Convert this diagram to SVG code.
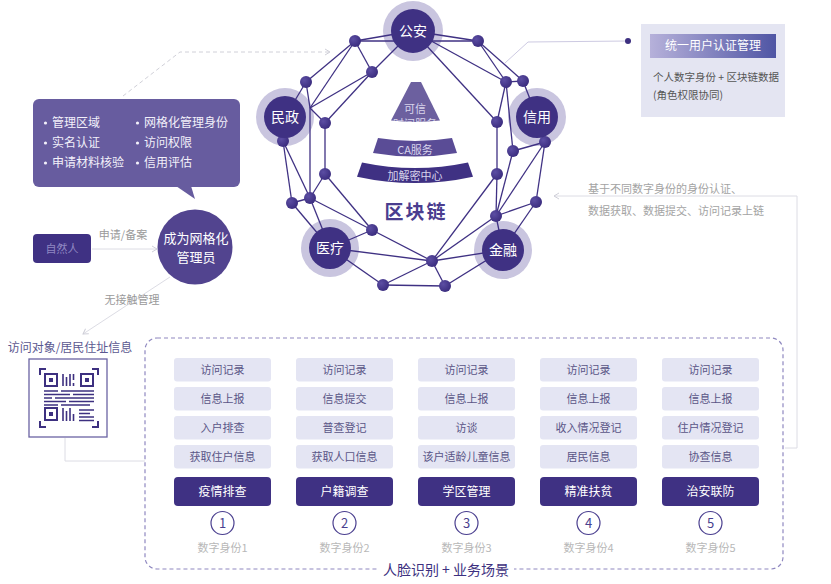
<svg xmlns="http://www.w3.org/2000/svg" width="831" height="584" viewBox="0 0 831 584">
<defs>
<style>
text{font-family:"Noto Sans CJK SC","Noto Sans",sans-serif;}
.edge{stroke:#3f3183;stroke-width:1.3;fill:none;}
.ring{fill:#c9c5df;}
.core{fill:#3f3183;}
.big{fill:#fff;font-size:14px;text-anchor:middle;}
.dot{fill:url(#dg);}
.lb{fill:#e4e5f3;}
.lt{fill:#5a5587;font-size:11px;text-anchor:middle;}
.db{fill:#3f3183;}
.dt{fill:#fff;font-size:12px;text-anchor:middle;}
.num{fill:#fff;stroke:#4a3f8f;stroke-width:1.2;}
.nt{fill:#4a3f8f;font-size:13px;text-anchor:middle;}
.id{fill:#b8b8b8;font-size:11px;text-anchor:middle;}
.gray{stroke:#dcdce4;stroke-width:1;fill:none;}
.bul{fill:#f2f0fa;font-size:12px;}
.qr{stroke:#3d3080;fill:none;}
</style>
<radialGradient id="dg" cx="0.35" cy="0.35" r="0.7">
<stop offset="0" stop-color="#5c4ea3"/>
<stop offset="1" stop-color="#3a2c7e"/>
</radialGradient>
<linearGradient id="hg" x1="0" y1="0" x2="1" y2="0">
<stop offset="0" stop-color="#b6b1da"/>
<stop offset="1" stop-color="#4f55a4"/>
</linearGradient>
<marker id="ah" markerWidth="8" markerHeight="8" refX="6" refY="4" orient="auto" markerUnits="userSpaceOnUse">
<path d="M1,1 L6,4 L1,7" fill="none" stroke="#cfcfd8" stroke-width="1"/>
</marker>
<clipPath id="triclip"><path d="M411,82 L421,82 L440,120.5 A212 212 0 0 1 391,120.5 Z"/></clipPath>
</defs>
<rect width="831" height="584" fill="#fff"/>

<!-- connectors (non-network) -->
<g id="connectors">
<path d="M123,96 L180,52 L330,52" stroke="#d0d0d8" stroke-width="1" fill="none" stroke-dasharray="4 3" marker-end="url(#ah)"/>
<path d="M505,63 L528,42 L628,41" stroke="#cdcae2" stroke-width="1" fill="none"/>
<circle cx="628" cy="41" r="3" fill="#3d3080"/>
<path d="M785,448 H797 V196 H554" class="gray" marker-end="url(#ah)"/>
<path d="M92,249 H157" class="gray" marker-end="url(#ah)"/>
<path d="M170,277 L83,334" class="gray" marker-end="url(#ah)"/>
<path d="M65,438 V461 H145" class="gray"/>
</g>

<!-- blockchain network -->
<g id="ring-backs">
<circle class="ring" cx="413" cy="31" r="30"/>
<circle class="ring" cx="285" cy="117" r="29"/>
<circle class="ring" cx="537" cy="117" r="29"/>
<circle class="ring" cx="330" cy="248" r="29"/>
<circle class="ring" cx="503" cy="250" r="29"/>
</g>
<g id="network-edges">
<line class="edge" x1="413" y1="31" x2="355" y2="41"/>
<line class="edge" x1="355" y1="41" x2="478" y2="41"/>
<line class="edge" x1="413" y1="31" x2="478" y2="41"/>
<line class="edge" x1="355" y1="41" x2="306" y2="82"/>
<line class="edge" x1="355" y1="41" x2="372" y2="72"/>
<line class="edge" x1="355" y1="41" x2="310" y2="108"/>
<line class="edge" x1="372" y1="72" x2="413" y2="31"/>
<line class="edge" x1="372" y1="72" x2="310" y2="108"/>
<line class="edge" x1="372" y1="72" x2="325" y2="123"/>
<line class="edge" x1="306" y1="82" x2="310" y2="108"/>
<line class="edge" x1="306" y1="82" x2="285" y2="117"/>
<line class="edge" x1="310" y1="108" x2="325" y2="123"/>
<line class="edge" x1="310" y1="108" x2="310" y2="198"/>
<line class="edge" x1="325" y1="123" x2="325" y2="174"/>
<line class="edge" x1="285" y1="117" x2="283" y2="141"/>
<line class="edge" x1="283" y1="141" x2="292" y2="203"/>
<line class="edge" x1="283" y1="141" x2="310" y2="198"/>
<line class="edge" x1="292" y1="203" x2="310" y2="198"/>
<line class="edge" x1="292" y1="203" x2="330" y2="248"/>
<line class="edge" x1="310" y1="198" x2="330" y2="248"/>
<line class="edge" x1="325" y1="174" x2="310" y2="198"/>
<line class="edge" x1="325" y1="174" x2="372" y2="230"/>
<line class="edge" x1="310" y1="198" x2="372" y2="230"/>
<line class="edge" x1="372" y1="230" x2="330" y2="248"/>
<line class="edge" x1="372" y1="230" x2="432" y2="261"/>
<line class="edge" x1="330" y1="248" x2="432" y2="261"/>
<line class="edge" x1="330" y1="248" x2="383" y2="285"/>
<line class="edge" x1="383" y1="285" x2="432" y2="261"/>
<line class="edge" x1="383" y1="285" x2="445" y2="286"/>
<line class="edge" x1="432" y1="261" x2="445" y2="286"/>
<line class="edge" x1="432" y1="261" x2="503" y2="250"/>
<line class="edge" x1="445" y1="286" x2="503" y2="250"/>
<line class="edge" x1="432" y1="261" x2="497" y2="174"/>
<line class="edge" x1="432" y1="261" x2="496" y2="216"/>
<line class="edge" x1="496" y1="216" x2="503" y2="250"/>
<line class="edge" x1="496" y1="216" x2="536" y2="202"/>
<line class="edge" x1="496" y1="216" x2="497" y2="174"/>
<line class="edge" x1="496" y1="216" x2="513" y2="151"/>
<line class="edge" x1="496" y1="216" x2="545" y2="142"/>
<line class="edge" x1="536" y1="202" x2="545" y2="142"/>
<line class="edge" x1="536" y1="202" x2="503" y2="250"/>
<line class="edge" x1="497" y1="174" x2="497" y2="122"/>
<line class="edge" x1="513" y1="151" x2="545" y2="142"/>
<line class="edge" x1="413" y1="31" x2="506" y2="82"/>
<line class="edge" x1="413" y1="31" x2="497" y2="122"/>
<line class="edge" x1="478" y1="41" x2="506" y2="82"/>
<line class="edge" x1="478" y1="41" x2="523" y2="81"/>
<line class="edge" x1="506" y1="82" x2="523" y2="81"/>
<line class="edge" x1="506" y1="82" x2="497" y2="122"/>
<line class="edge" x1="506" y1="82" x2="513" y2="151"/>
<line class="edge" x1="523" y1="81" x2="537" y2="117"/>
<line class="edge" x1="537" y1="117" x2="545" y2="142"/>
</g>
<g id="network-dots">
<circle class="dot" cx="355" cy="41" r="6"/>
<circle class="dot" cx="478" cy="41" r="6"/>
<circle class="dot" cx="372" cy="72" r="6"/>
<circle class="dot" cx="306" cy="82" r="6"/>
<circle class="dot" cx="506" cy="82" r="6"/>
<circle class="dot" cx="523" cy="81" r="6"/>
<circle class="dot" cx="325" cy="123" r="6"/>
<circle class="dot" cx="497" cy="122" r="6"/>
<circle class="dot" cx="283" cy="141" r="6"/>
<circle class="dot" cx="545" cy="142" r="6"/>
<circle class="dot" cx="513" cy="151" r="6"/>
<circle class="dot" cx="325" cy="174" r="6"/>
<circle class="dot" cx="497" cy="174" r="6"/>
<circle class="dot" cx="310" cy="198" r="6"/>
<circle class="dot" cx="292" cy="203" r="6"/>
<circle class="dot" cx="536" cy="202" r="6"/>
<circle class="dot" cx="496" cy="216" r="6"/>
<circle class="dot" cx="372" cy="230" r="6"/>
<circle class="dot" cx="432" cy="261" r="6"/>
<circle class="dot" cx="383" cy="285" r="6"/>
<circle class="dot" cx="445" cy="286" r="6"/>
</g>
<g id="node-gongan"><circle class="core" cx="413" cy="31" r="22"/><text class="big" x="413" y="36">公安</text></g>
<g id="node-minzheng"><circle class="core" cx="285" cy="117" r="21"/><text class="big" x="285" y="122">民政</text></g>
<g id="node-xinyong"><circle class="core" cx="537" cy="117" r="21"/><text class="big" x="537" y="122">信用</text></g>
<g id="node-yiliao"><circle class="core" cx="330" cy="248" r="21"/><text class="big" x="330" y="253">医疗</text></g>
<g id="node-jinrong"><circle class="core" cx="503" cy="250" r="21"/><text class="big" x="503" y="255">金融</text></g>

<!-- pyramid -->
<g id="blockchain-core">
<path d="M411,82 L421,82 L440,120.5 A212 212 0 0 1 391,120.5 Z" fill="#6c609f"/>
<text x="415" y="112.5" fill="#d8d4ec" font-size="11" text-anchor="middle">可信</text>
<text x="415" y="128" fill="#d8d4ec" font-size="11" text-anchor="middle" clip-path="url(#triclip)">时间服务</text>
<path d="M378,138 A231 231 0 0 0 452,138 L457,153 A247 247 0 0 1 373,153 Z" fill="#5a4c96"/>
<text x="415" y="154" fill="#d8d4ec" font-size="11" text-anchor="middle">CA服务</text>
<path d="M362,162.5 A258 258 0 0 0 468,162.5 L473,176.8 A273 273 0 0 1 357,176.8 Z" fill="#3f3183"/>
<text x="415" y="180" fill="#d8d4ec" font-size="11" text-anchor="middle">加解密中心</text>
<text x="416" y="219" fill="#4a3d8f" font-size="19" font-weight="bold" text-anchor="middle" letter-spacing="2">区块链</text>
</g>

<!-- callout -->
<g id="callout">
<rect x="33" y="99" width="207" height="88" rx="6" fill="#675c9f"/>
<polygon points="176,186 191,186 195,199" fill="#675c9f"/>
<circle cx="45.5" cy="123" r="1.6" fill="#f2f0fa"/><text class="bul" x="52" y="127">管理区域</text>
<circle cx="45.5" cy="143" r="1.6" fill="#f2f0fa"/><text class="bul" x="52" y="147">实名认证</text>
<circle cx="45.5" cy="163" r="1.6" fill="#f2f0fa"/><text class="bul" x="52" y="167">申请材料核验</text>
<circle cx="137.5" cy="123" r="1.6" fill="#f2f0fa"/><text class="bul" x="144" y="127">网格化管理身份</text>
<circle cx="137.5" cy="143" r="1.6" fill="#f2f0fa"/><text class="bul" x="144" y="147">访问权限</text>
<circle cx="137.5" cy="163" r="1.6" fill="#f2f0fa"/><text class="bul" x="144" y="167">信用评估</text>
</g>

<!-- right info box -->
<g id="user-auth-box">
<rect x="641" y="24" width="144" height="93" fill="#e4e5f2"/>
<rect x="650" y="34" width="126" height="24" fill="url(#hg)"/>
<text x="713" y="50" fill="#fff" font-size="12" text-anchor="middle">统一用户认证管理</text>
<text x="653" y="81" fill="#555" font-size="10.5">个人数字身份 + 区块链数据</text>
<text x="653" y="99" fill="#555" font-size="10.5">(角色权限协同)</text>
</g>
<g id="chain-note">
<text x="588" y="193" fill="#a3a3a3" font-size="11">基于不同数字身份的身份认证、</text>
<text x="588" y="215" fill="#a3a3a3" font-size="11">数据获取、数据提交、访问记录上链</text>
</g>

<!-- left nodes -->
<g id="node-ziranren">
<rect x="33" y="234" width="58" height="29" rx="4" fill="#3f3183"/>
<text x="62" y="253" fill="#8f87c2" font-size="11" text-anchor="middle">自然人</text>
</g>
<text x="123" y="239" fill="#9a9a9a" font-size="11" text-anchor="middle">申请/备案</text>
<text x="132" y="304" fill="#9a9a9a" font-size="11" text-anchor="middle">无接触管理</text>
<g id="node-grid-admin">
<circle cx="195" cy="247" r="37.5" fill="#52448f"/>
<text x="196" y="243" fill="#fff" font-size="13" text-anchor="middle">成为网格化</text>
<text x="196" y="262" fill="#fff" font-size="13" text-anchor="middle">管理员</text>
</g>

<!-- QR -->
<g id="node-qr">
<text x="70" y="352" fill="#5b5890" font-size="12" text-anchor="middle">访问对象/居民住址信息</text>
<rect x="29" y="359" width="78" height="78" fill="#fff" stroke="#6a63a3" stroke-width="1.3"/>
<g class="qr" stroke-width="2">
<path d="M40,375 V369 H46 M92,369 H98 V375 M40,421 V427 H46 M92,427 H98 V421"/>
<rect x="45" y="374" width="12" height="12"/>
<rect x="81" y="374" width="12" height="12"/>
<rect x="45" y="408" width="12" height="12"/>
</g>
<g fill="#3d3080">
<rect x="49" y="378" width="4" height="4"/>
<rect x="85" y="378" width="4" height="4"/>
<rect x="49" y="412" width="4" height="4"/>
</g>
<g class="qr" stroke-width="1.6">
<path d="M63,374 V386 M66.5,377 V386 M70,374 V386 M73.5,374 V380 M73.5,383 V386"/>
<path d="M63,408 V421 M66.5,411 V421 M70,408 V421 M73.5,414 V421"/>
<path d="M44,391 H58 M61,391 H94 M44,394.5 H70 M73,394.5 H94 M44,398 H52 M55,398 H94 M44,401.5 H66 M69,401.5 H94 M44,405 H58 M61,405 H90"/>
<path d="M79,410 H94 M79,413.5 H90 M79,417 H94 M79,420.5 H94"/>
</g>
</g>

<!-- scenarios box -->
<g id="scenario-frame">
<rect x="145" y="338" width="638" height="231" rx="12" fill="none" stroke="#8f88c0" stroke-width="1.2" stroke-dasharray="4 3"/>
<rect x="378" y="560" width="136" height="20" fill="#fff"/>
<text x="446" y="575" fill="#3d3080" font-size="14" text-anchor="middle">人脸识别 + 业务场景</text>
</g>

<g id="col-1">
<rect class="lb" x="174" y="358" width="97" height="23.5" rx="3"/><text class="lt" x="222.5" y="374">访问记录</text>
<rect class="lb" x="174" y="387" width="97" height="23.5" rx="3"/><text class="lt" x="222.5" y="403">信息上报</text>
<rect class="lb" x="174" y="416" width="97" height="23.5" rx="3"/><text class="lt" x="222.5" y="432">入户排查</text>
<rect class="lb" x="174" y="445" width="97" height="23.5" rx="3"/><text class="lt" x="222.5" y="461">获取住户信息</text>
<rect class="db" x="174" y="477" width="97" height="29" rx="4"/><text class="dt" x="222.5" y="496">疫情排查</text>
<circle class="num" cx="222.5" cy="523" r="11.5"/><text class="nt" x="222.5" y="528">1</text>
<text class="id" x="222.5" y="552">数字身份1</text>
</g>
<g id="col-2">
<rect class="lb" x="296" y="358" width="97" height="23.5" rx="3"/><text class="lt" x="344.5" y="374">访问记录</text>
<rect class="lb" x="296" y="387" width="97" height="23.5" rx="3"/><text class="lt" x="344.5" y="403">信息提交</text>
<rect class="lb" x="296" y="416" width="97" height="23.5" rx="3"/><text class="lt" x="344.5" y="432">普查登记</text>
<rect class="lb" x="296" y="445" width="97" height="23.5" rx="3"/><text class="lt" x="344.5" y="461">获取人口信息</text>
<rect class="db" x="296" y="477" width="97" height="29" rx="4"/><text class="dt" x="344.5" y="496">户籍调查</text>
<circle class="num" cx="344.5" cy="523" r="11.5"/><text class="nt" x="344.5" y="528">2</text>
<text class="id" x="344.5" y="552">数字身份2</text>
</g>
<g id="col-3">
<rect class="lb" x="418" y="358" width="97" height="23.5" rx="3"/><text class="lt" x="466.5" y="374">访问记录</text>
<rect class="lb" x="418" y="387" width="97" height="23.5" rx="3"/><text class="lt" x="466.5" y="403">信息上报</text>
<rect class="lb" x="418" y="416" width="97" height="23.5" rx="3"/><text class="lt" x="466.5" y="432">访谈</text>
<rect class="lb" x="418" y="445" width="97" height="23.5" rx="3"/><text class="lt" x="466.5" y="461">该户适龄儿童信息</text>
<rect class="db" x="418" y="477" width="97" height="29" rx="4"/><text class="dt" x="466.5" y="496">学区管理</text>
<circle class="num" cx="466.5" cy="523" r="11.5"/><text class="nt" x="466.5" y="528">3</text>
<text class="id" x="466.5" y="552">数字身份3</text>
</g>
<g id="col-4">
<rect class="lb" x="540" y="358" width="97" height="23.5" rx="3"/><text class="lt" x="588.5" y="374">访问记录</text>
<rect class="lb" x="540" y="387" width="97" height="23.5" rx="3"/><text class="lt" x="588.5" y="403">信息上报</text>
<rect class="lb" x="540" y="416" width="97" height="23.5" rx="3"/><text class="lt" x="588.5" y="432">收入情况登记</text>
<rect class="lb" x="540" y="445" width="97" height="23.5" rx="3"/><text class="lt" x="588.5" y="461">居民信息</text>
<rect class="db" x="540" y="477" width="97" height="29" rx="4"/><text class="dt" x="588.5" y="496">精准扶贫</text>
<circle class="num" cx="588.5" cy="523" r="11.5"/><text class="nt" x="588.5" y="528">4</text>
<text class="id" x="588.5" y="552">数字身份4</text>
</g>
<g id="col-5">
<rect class="lb" x="662" y="358" width="97" height="23.5" rx="3"/><text class="lt" x="710.5" y="374">访问记录</text>
<rect class="lb" x="662" y="387" width="97" height="23.5" rx="3"/><text class="lt" x="710.5" y="403">信息上报</text>
<rect class="lb" x="662" y="416" width="97" height="23.5" rx="3"/><text class="lt" x="710.5" y="432">住户情况登记</text>
<rect class="lb" x="662" y="445" width="97" height="23.5" rx="3"/><text class="lt" x="710.5" y="461">协查信息</text>
<rect class="db" x="662" y="477" width="97" height="29" rx="4"/><text class="dt" x="710.5" y="496">治安联防</text>
<circle class="num" cx="710.5" cy="523" r="11.5"/><text class="nt" x="710.5" y="528">5</text>
<text class="id" x="710.5" y="552">数字身份5</text>
</g>
</svg>
